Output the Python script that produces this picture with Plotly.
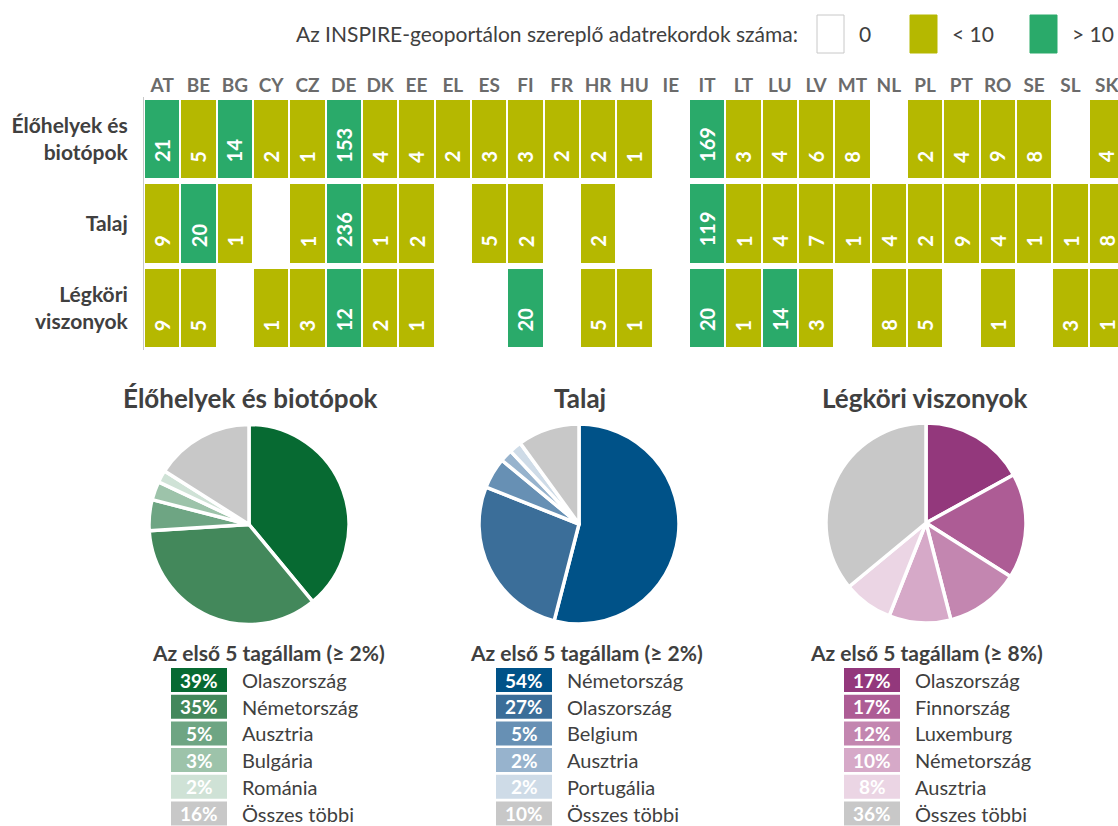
import plotly.graph_objects as go

# ---------------- data ----------------
countries = ["AT", "BE", "BG", "CY", "CZ", "DE", "DK", "EE", "EL", "ES", "FI", "FR", "HR", "HU",
             "IE", "IT", "LT", "LU", "LV", "MT", "NL", "PL", "PT", "RO", "SE", "SL", "SK"]
row_labels = ["Élőhelyek és<br>biotópok", "Talaj", "Légköri<br>viszonyok"]

habitats = [21, 5, 14, 2, 1, 153, 4, 4, 2, 3, 3, 2, 2, 1, None, 169, 3, 4, 6, 8, None, 2, 4, 9, 8, None, 4]
soil = [9, 20, 1, None, 1, 236, 1, 2, None, 5, 2, None, 2, None, None, 119, 1, 4, 7, 1, 4, 2, 9, 4, 1, 1, 8]
atmos = [9, 5, None, 1, 3, 12, 2, 1, None, None, 20, None, 5, 1, None, 20, 1, 14, 3, None, 8, 5, None, 1, None, 3, 1]

legend_title = "Az INSPIRE-geoportálon szereplő adatrekordok száma:"
legend_items = ["0", "< 10", "> 10"]

pie_titles = ["Élőhelyek és biotópok", "Talaj", "Légköri viszonyok"]
pie_subtitles = ["Az első 5 tagállam (≥ 2%)", "Az első 5 tagállam (≥ 2%)", "Az első 5 tagállam (≥ 8%)"]

pie1_labels = ["Olaszország", "Németország", "Ausztria", "Bulgária", "Románia", "Összes többi"]
pie1_values = [39, 35, 5, 3, 2, 16]
pie2_labels = ["Németország", "Olaszország", "Belgium", "Ausztria", "Portugália", "Összes többi"]
pie2_values = [54, 27, 5, 2, 2, 10]
pie3_labels = ["Olaszország", "Finnország", "Luxemburg", "Németország", "Ausztria", "Összes többi"]
pie3_values = [17, 17, 12, 10, 8, 36]

# ---------------- styles ----------------
FONT = "Lato, 'Open Sans', sans-serif"
OLIVE = "#b5b800"
GREEN = "#2aaa6a"
TXT = "#404040"
pie_colors = [
    ["#076a32", "#43885b", "#6ea583", "#9dc3aa", "#cfe2d6", "#c8c8c8"],
    ["#005288", "#3b6e99", "#6790b4", "#97b3cd", "#cedbe7", "#c8c8c8"],
    ["#93387c", "#ad5c95", "#c386b0", "#d6a9c8", "#ebd5e4", "#c8c8c8"],
]

W, H = 1118, 826


def px(x):
    return x / W


def py(y):
    return 1 - y / H


fig = go.Figure()

# ---------------- heatmap ----------------
rows = [habitats, soil, atmos]
zcat = [[None if v is None else (1 if v < 10 else 2) for v in r] for r in rows]
fig.add_trace(go.Heatmap(
    x=countries, y=[0, 1, 2], z=zcat, zmin=1, zmax=2,
    colorscale=[[0, OLIVE], [0.5, OLIVE], [0.5, GREEN], [1, GREEN]],
    showscale=False, xgap=2, ygap=6, hoverongaps=False, hoverinfo="skip",
))

annotations = []
for i, r in enumerate(rows):
    for c, v in zip(countries, r):
        if v is None:
            continue
        annotations.append(dict(
            x=c, y=i + 0.5, xref="x", yref="y", text=f"<b>{v}</b>", textangle=-90,
            xanchor="center", yanchor="bottom", yshift=17, showarrow=False,
            font=dict(family=FONT, size=20, color="white"),
        ))

fig.update_xaxes(
    side="top", domain=[px(144), 1], range=[-0.5, 26.31],
    showgrid=False, zeroline=False, ticks="", ticklen=0,
    tickfont=dict(family=FONT, size=19, color="#6b6b6b", weight=700),
)
fig.update_yaxes(
    domain=[py(350), py(97)], range=[2.5, -0.5],
    tickmode="array", tickvals=[0, 1, 2], ticktext=row_labels,
    showgrid=False, zeroline=False, ticks="", ticklabelstandoff=11,
    showline=True, linecolor="#c8c8c8", linewidth=1,
    tickfont=dict(family=FONT, size=21, color=TXT, weight=700),
)

# ---------------- top legend ----------------
annotations.append(dict(
    x=px(800), y=py(34), xref="paper", yref="paper", text=legend_title,
    xanchor="right", yanchor="middle", showarrow=False,
    font=dict(family=FONT, size=21, color=TXT),
))
shapes = []
leg_boxes = [(817, "white"), (910, OLIVE), (1030, GREEN)]
for (bx, col), lab in zip(leg_boxes, legend_items):
    shapes.append(dict(
        type="rect", xref="paper", yref="paper",
        x0=px(bx), x1=px(bx + 27), y0=py(53), y1=py(15),
        fillcolor=col, line=dict(color="#c8c8c8" if col == "white" else col, width=1),
    ))
    annotations.append(dict(
        x=px(bx + 40), y=py(34), xref="paper", yref="paper", text=lab,
        xanchor="left", yanchor="middle", showarrow=False,
        font=dict(family=FONT, size=21, color=TXT),
    ))

# ---------------- pies ----------------
pie_geo = [(249, 524.5), (579, 524), (926, 523)]
R = 100
all_labels = [pie1_labels, pie2_labels, pie3_labels]
all_values = [pie1_values, pie2_values, pie3_values]
title_x = [250, 580, 925]
sub_x = [268, 586, 926.5]
swatch_left = [171, 496, 844]

for k in range(3):
    cx, cy = pie_geo[k]
    fig.add_trace(go.Pie(
        labels=all_labels[k], values=all_values[k], sort=False,
        direction="clockwise", rotation=0, textinfo="none", hoverinfo="skip",
        marker=dict(colors=pie_colors[k], line=dict(color="white", width=3.5)),
        domain=dict(x=[px(cx - R), px(cx + R)], y=[py(cy + R), py(cy - R)]),
        showlegend=False,
    ))
    annotations.append(dict(
        x=px(title_x[k]), y=py(398), xref="paper", yref="paper",
        text=f"<b>{pie_titles[k]}</b>", xanchor="center", yanchor="middle",
        showarrow=False, font=dict(family=FONT, size=26, color=TXT),
    ))
    annotations.append(dict(
        x=px(sub_x[k]), y=py(652), xref="paper", yref="paper",
        text=f"<b>{pie_subtitles[k]}</b>", xanchor="center", yanchor="middle",
        showarrow=False, font=dict(family=FONT, size=21, color=TXT),
    ))
    for j, (lab, val) in enumerate(zip(all_labels[k], all_values[k])):
        top = 668 + j * 26.7
        sl = swatch_left[k]
        shapes.append(dict(
            type="rect", xref="paper", yref="paper",
            x0=px(sl), x1=px(sl + 56), y0=py(top + 24), y1=py(top),
            fillcolor=pie_colors[k][j], line=dict(width=0),
        ))
        annotations.append(dict(
            x=px(sl + 28), y=py(top + 12), xref="paper", yref="paper",
            text=f"<b>{val}%</b>", xanchor="center", yanchor="middle",
            showarrow=False, font=dict(family=FONT, size=19, color="white"),
        ))
        annotations.append(dict(
            x=px(sl + 69), y=py(top + 12), xref="paper", yref="paper",
            text=lab, xanchor="left", yanchor="middle",
            showarrow=False, font=dict(family=FONT, size=20, color=TXT),
        ))

fig.update_layout(
    width=W, height=H, margin=dict(l=0, r=0, t=0, b=0),
    paper_bgcolor="white", plot_bgcolor="white",
    annotations=annotations, shapes=shapes, showlegend=False,
    font=dict(family=FONT),
)

fig.write_html(
    "out.html",
    config={"displayModeBar": False},
    post_script="document.body.style.margin='0';document.body.style.overflow='hidden';",
)
